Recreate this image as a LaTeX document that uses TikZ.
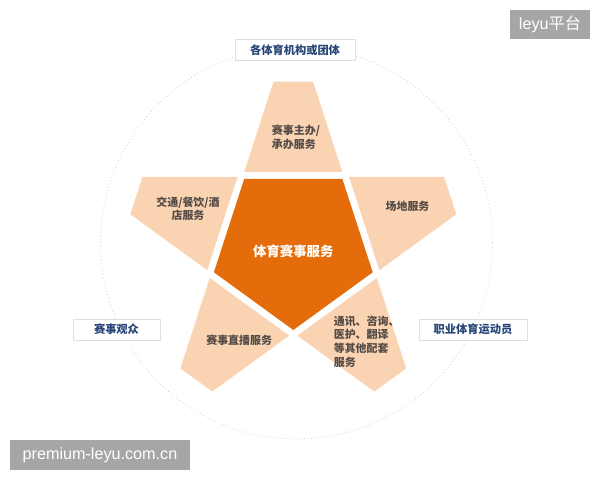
\documentclass[tikz,border=0pt]{standalone}
\usepackage{fontspec}
\setmainfont{Liberation Sans}
\newfontfamily\cjk{Noto Sans CJK SC}
\usetikzlibrary{calc}

\definecolor{peach}{RGB}{250,212,178}
\definecolor{deeporange}{RGB}{228,108,10}
\definecolor{piecetext}{RGB}{85,75,70}
\definecolor{labelblue}{RGB}{40,70,120}
\definecolor{markgray}{RGB}{166,166,166}
\definecolor{ringgray}{RGB}{195,195,195}

\begin{document}
\begin{tikzpicture}[
    x=0.025cm, y=0.025cm,
    piece/.style={fill=peach},
    core/.style={fill=deeporange},
    txt/.style={font=\cjk\bfseries\fontsize{7.8}{9.8}\selectfont, text=piecetext, inner sep=0pt},
    who/.style={draw=gray!25, fill=white, minimum height=0.52cm, inner sep=0pt, font=\cjk\bfseries\fontsize{8}{10}\selectfont, text=labelblue},
    wmark/.style={fill=markgray, text=white, inner sep=0pt, font=\fontsize{11.5}{13}\selectfont}
]
\useasboundingbox (0,0) rectangle (600,480);
\coordinate (c) at (293.3,233.5);

% dotted ring
\draw[ringgray, dotted, line width=0.5pt] (296.5,237) circle[radius=196];

% star points and centre
\foreach \a in {90,18,-54,-126,162}
  \fill[piece, shift={(c)}] ({\a-33.36}:89.26) -- ({\a-6.81}:166.17) -- ({\a+6.81}:166.17) -- ({\a+33.36}:89.26) -- cycle;
\fill[core, shift={(c)}] (-90:83.5) -- (-18:83.5) -- (54:83.5) -- (126:83.5) -- (198:83.5) -- cycle;

\node[txt, text=white, font=\cjk\bfseries\fontsize{9.5}{11}\selectfont] (sport) at (293.3,228.3) {体育赛事服务};
\node[txt, align=left] (host) at (296,343) {赛事主办/\\承办服务};
\node[txt, align=center] (travel) at (188,271.3) {交通/餐饮/酒\\店服务};
\node[txt] (venue) at (407.5,273.3) {场地服务};
\node[txt] (live) at (239.2,139.3) {赛事直播服务};
\node[txt, align=left, anchor=west] (misc) at (333.5,138.5) {通讯、咨询、\\医护、翻译\\等其他配套\\服务};

% outer groups
\node[who, minimum width=3cm] (org) at (295,430) {各体育机构或团体};
\node[who, minimum width=2.175cm] (fans) at (116.5,150.5) {赛事观众};
\node[who, minimum width=2.7cm] (pro) at (473,150.5) {职业体育运动员};

\node[wmark, minimum width=2cm, minimum height=0.725cm] (site) at (550,455.5) {leyu{\cjk 平台}};
\node[wmark, minimum width=4.5cm, minimum height=0.75cm] (url) at (100,25) {premium-leyu.com.cn};
\end{tikzpicture}
\end{document}
